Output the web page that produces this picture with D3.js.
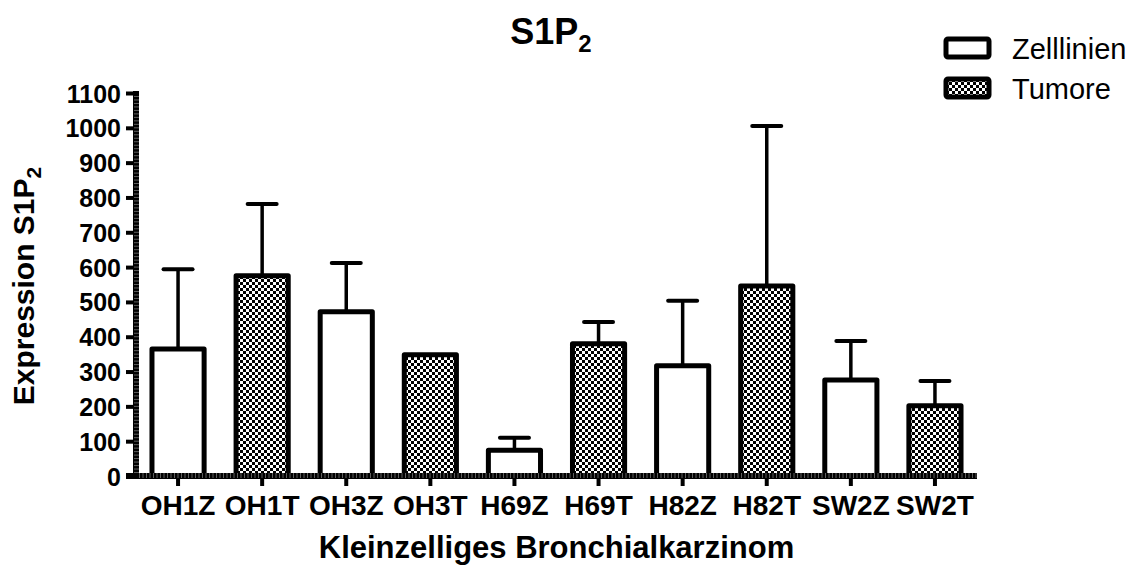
<!DOCTYPE html>
<html>
<head>
<meta charset="utf-8">
<script src="https://cdn.jsdelivr.net/npm/d3@7"></script>
<style>
    body { margin: 0; background: #fff; }
    svg text { font-family: 'Liberation Sans', Arial, sans-serif; fill: #000; }
</style>
</head>
<body>
<svg id="chart" width="1133" height="568"></svg>
<script>
// values
let categories = ['OH1Z', 'OH1T', 'OH3Z', 'OH3T', 'H69Z', 'H69T', 'H82Z', 'H82T', 'SW2Z', 'SW2T']
let groups = ['Zelllinien', 'Tumore', 'Zelllinien', 'Tumore', 'Zelllinien', 'Tumore', 'Zelllinien', 'Tumore', 'Zelllinien', 'Tumore']
let means = [365, 575, 472, 348, 74, 380, 317, 546, 276, 202]
let upper = [594, 781, 612, null, 110, 442, 503, 1005, 388, 273]
let yTicks = d3.range(0, 1101, 100)
let legendItems = ['Zelllinien', 'Tumore']

function main() {
    let svg = d3.select('#chart'),
        left = 136, right = 977, top = 93, bottom = 476

    let defs = svg.append('defs')
    let pat = defs.append('pattern')
        .attr('id', 'checker')
        .attr('patternUnits', 'userSpaceOnUse')
        .attr('width', 6).attr('height', 6)
    pat.append('rect').attr('width', 6).attr('height', 6).attr('fill', '#fff')
    pat.append('rect').attr('width', 3).attr('height', 3).attr('fill', '#000')
    pat.append('rect').attr('x', 3).attr('y', 3).attr('width', 3).attr('height', 3).attr('fill', '#000')

    let x = d3.scaleBand().domain(categories).range([left, right]).paddingInner(0.38).paddingOuter(0.19)
    let y = d3.scaleLinear().domain([0, 1100]).range([bottom, top])

    // error bars (upwards only)
    let err = svg.append('g')
    categories.forEach((c, i) => {
        if (upper[i] == null) return
        let cx = x(c) + x.bandwidth() / 2
        err.append('line')
            .attr('x1', cx).attr('x2', cx)
            .attr('y1', y(means[i])).attr('y2', y(upper[i]))
            .attr('stroke', '#000').attr('stroke-width', 3.5)
        err.append('line')
            .attr('x1', cx - 14.5).attr('x2', cx + 14.5)
            .attr('y1', y(upper[i])).attr('y2', y(upper[i]))
            .attr('stroke', '#000').attr('stroke-width', 4).attr('stroke-linecap', 'round')
    })

    // bars
    svg.append('g').selectAll('rect')
        .data(categories)
        .enter().append('rect')
        .attr('x', d => x(d))
        .attr('width', x.bandwidth())
        .attr('y', (d, i) => y(means[i]))
        .attr('height', (d, i) => y(0) - y(means[i]))
        .attr('fill', (d, i) => groups[i] === 'Tumore' ? 'url(#checker)' : '#fff')
        .attr('stroke', '#000')
        .attr('stroke-width', 5)
        .attr('stroke-linejoin', 'round')

    // y axis
    let yAxis = svg.append('g')
        .attr('transform', 'translate(' + left + ',0)')
        .call(d3.axisLeft(y).tickValues(yTicks).tickFormat(d3.format('d'))
            .tickSize(10).tickPadding(5).tickSizeOuter(0))
    yAxis.select('.domain').attr('stroke-width', 6).attr('d', 'M0,' + (top - 2) + 'V' + (bottom + 3))
    yAxis.selectAll('.tick line').attr('stroke-width', 4)
    yAxis.selectAll('.tick text')
        .style('font-size', '25px').style('font-weight', 'bold')
        .attr('dy', '0.36em')
    // minor ticks, drawn as faint marks on the thick line
    svg.append('g').selectAll('line')
        .data(d3.range(10, 1100, 10))
        .enter().append('line')
        .attr('x1', left - 2).attr('x2', left + 3)
        .attr('y1', d => y(d)).attr('y2', d => y(d))
        .attr('stroke', '#777').attr('stroke-width', 0.8)

    // x axis
    let xAxis = svg.append('g')
        .attr('transform', 'translate(0,' + bottom + ')')
        .call(d3.axisBottom(x).tickSize(10).tickPadding(9).tickSizeOuter(0))
    xAxis.select('.domain').attr('stroke-width', 6).attr('d', 'M' + (left - 10) + ',0H' + right)
    xAxis.selectAll('.tick line').attr('stroke-width', 4)
    xAxis.selectAll('.tick text')
        .style('font-size', '28px').style('font-weight', 'bold')
        .attr('dy', '0.71em')
    svg.append('g').selectAll('line')
        .data(d3.range(left + 3.5, right, 3.5))
        .enter().append('line')
        .attr('x1', d => d).attr('x2', d => d)
        .attr('y1', bottom - 3).attr('y2', bottom + 2)
        .attr('stroke', '#777').attr('stroke-width', 0.8)

    // title
    let title = svg.append('text')
        .attr('x', 551).attr('y', 44)
        .attr('text-anchor', 'middle')
        .style('font-size', '36px').style('font-weight', 'bold')
    title.append('tspan').text('S1P')
    title.append('tspan').attr('dy', 8).style('font-size', '24px').text('2')

    // axis titles
    let yl = svg.append('text')
        .attr('transform', 'translate(34,286) rotate(-90)')
        .attr('text-anchor', 'middle')
        .style('font-size', '30px').style('font-weight', 'bold')
    yl.append('tspan').text('Expression S1P')
    yl.append('tspan').attr('dy', 7).style('font-size', '21px').text('2')

    svg.append('text')
        .attr('x', (left + right) / 2).attr('y', 558)
        .attr('text-anchor', 'middle')
        .style('font-size', '31px').style('font-weight', 'bold')
        .text('Kleinzelliges Bronchialkarzinom')

    // legend
    let legend = svg.append('g').attr('transform', 'translate(946,39)')
    legendItems.forEach((name, i) => {
        let row = legend.append('g').attr('transform', 'translate(0,' + (i * 40) + ')')
        row.append('rect')
            .attr('width', 43).attr('height', 18)
            .attr('rx', 2)
            .attr('fill', name === 'Tumore' ? 'url(#checker)' : '#fff')
            .attr('stroke', '#000').attr('stroke-width', 5)
        row.append('text')
            .attr('x', 66).attr('y', 20)
            .style('font-size', '29px')
            .text(name)
    })
}

main()
</script>
</body>
</html>
